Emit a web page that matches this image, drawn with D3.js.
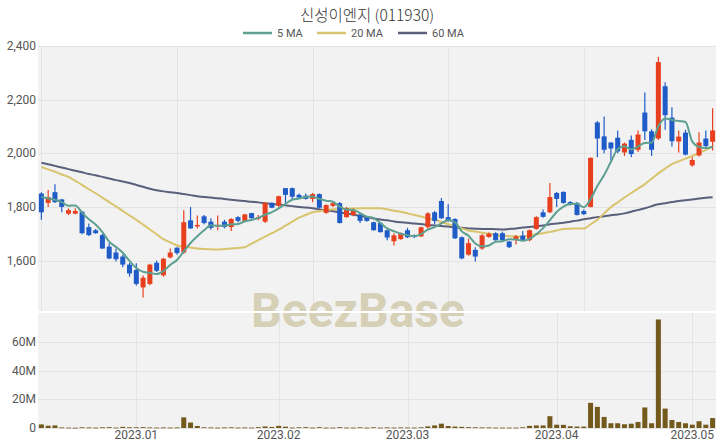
<!DOCTYPE html>
<html><head><meta charset="utf-8">
<script src="https://cdn.jsdelivr.net/npm/d3@7"></script>
<style>html,body{margin:0;padding:0;background:#fff;}svg{display:block;}</style>
</head><body>
<svg id="c" width="720" height="448"></svg>
<script>
// ---- data ----
const title = "신성이엔지 (011930)";
const open  = [1850,1815,1855,1828,1775,1775,1782,1725,1713,1695, 1652,1630,1615,1585,1565,1500,1513,1592,1545,1612,
               1648,1630,1750,1728,1765,1745,1728,1745,1725,1762, 1748,1777,1758,1745,1815,1805,1870,1870,1845,1842,
               1830,1848,1778,1804,1814,1762,1770,1770,1760,1743, 1740,1713,1672,1680,1713,1693,1690,1725,1780,1822,
               1762,1755,1687,1622,1640,1645,1688,1702,1702,1671, 1680,1693,1676,1718,1780,1780,1852,1856,1818,1815,
               1785,1800,2115,2063,2040,2058,2003,2050,2013,2152, 2082,2055,2250,2133,2044,2077,1955,1992,2055,2043];
const high  = [1855,1863,1885,1830,1795,1795,1785,1738,1718,1700, 1665,1645,1622,1592,1590,1544,1588,1600,1610,1645,
               1650,1788,1800,1768,1770,1758,1768,1752,1758,1765, 1775,1778,1770,1818,1817,1842,1870,1872,1850,1850,
               1852,1850,1810,1818,1818,1800,1795,1778,1763,1745, 1742,1716,1702,1705,1722,1697,1726,1780,1785,1833,
               1810,1758,1690,1682,1650,1698,1705,1706,1708,1673, 1695,1710,1716,1765,1790,1889,1856,1858,1822,1818,
               1790,1985,2120,2137,2042,2085,2040,2066,2085,2227, 2090,2360,2265,2172,2085,2088,1985,2078,2085,2168];
const low   = [1752,1800,1815,1780,1770,1773,1698,1692,1700,1643, 1605,1597,1575,1540,1506,1462,1508,1557,1540,1608,
               1622,1625,1718,1720,1735,1715,1713,1720,1710,1743, 1745,1756,1750,1740,1795,1800,1815,1830,1832,1828,
               1818,1795,1775,1800,1738,1760,1765,1740,1745,1712, 1705,1676,1656,1678,1684,1684,1688,1713,1735,1755,
               1745,1680,1605,1618,1597,1640,1685,1674,1672,1647, 1660,1672,1672,1715,1760,1777,1800,1812,1805,1768,
               1770,1798,1985,2000,1972,2000,1990,1985,2005,2050, 1990,2050,2088,2025,2003,1992,1950,1988,2017,2010];
const close = [1780,1837,1818,1800,1788,1785,1702,1695,1702,1645, 1608,1605,1585,1552,1513,1536,1585,1562,1607,1630,
               1628,1743,1720,1733,1740,1722,1733,1725,1755,1748, 1772,1758,1762,1815,1797,1840,1845,1838,1835,1830,
               1848,1797,1807,1814,1740,1795,1788,1748,1748,1713, 1706,1686,1694,1701,1687,1688,1724,1776,1748,1758,
               1748,1683,1608,1665,1615,1694,1700,1676,1676,1650, 1690,1677,1713,1762,1763,1837,1830,1815,1808,1770,
               1773,1983,2055,2013,2018,2007,2036,1997,2070,2082, 2013,2340,2142,2045,2062,1995,1975,2040,2027,2085];
// volume, millions of shares
const volume = [2.5,1.6,1.8,0.4,0.3,0.2,0.5,0.4,0.3,0.5, 0.6,0.3,0.8,0.5,0.5,0.6,0.4,0.3,0.4,0.3,
                0.4,7.4,3.8,1.4,0.5,0.4,0.3,0.4,0.5,0.3, 0.4,0.3,0.6,1.1,0.7,1.5,0.9,0.3,0.5,0.6,
                0.3,0.6,0.3,0.3,0.6,0.3,0.3,0.5,0.3,0.5, 0.3,0.4,0.3,0.4,0.3,0.3,0.5,1.1,1.8,3.0,
                1.4,1.0,0.8,0.6,0.5,0.4,0.4,0.3,0.3,0.3, 0.3,0.5,1.5,1.8,1.8,8.2,2.3,2.2,1.2,1.0,
                1.0,17.5,14.7,7.7,3.3,3.3,2.6,3.0,4.2,14.3, 3.3,75.5,13.5,5.6,4.2,3.3,2.3,4.7,2.3,6.9];
// 5-day average for the first four sessions (earlier closes not shown)
const ma5Head = [1837,1832,1827,1818];
const ma20 = [1949,1940,1931,1921,1912,1897,1882,1866,1851,1835, 1818,1802,1785,1768,1752,1734,1716,1698,1680,1668,
              1656,1652,1649,1645,1643,1642,1641,1643,1645,1647, 1650,1663,1676,1689,1702,1715,1730,1745,1760,1770,
              1780,1784,1788,1791,1792,1793,1794,1795,1795,1795, 1795,1791,1786,1782,1776,1770,1764,1758,1752,1744,
              1736,1728,1720,1712,1708,1704,1700,1696,1692,1691, 1690,1690,1694,1698,1702,1707,1712,1718,1719,1720,
              1720,1735,1752,1776,1799,1817,1835,1852,1868,1885, 1905,1925,1943,1960,1970,1980,1990,2001,2013,2024];
const ma60 = [1965,1959,1953,1947,1941,1935,1929,1923,1918,1912, 1906,1900,1895,1889,1882,1875,1868,1862,1858,1855,
              1852,1848,1844,1840,1837,1835,1832,1830,1827,1824, 1822,1819,1817,1814,1811,1809,1806,1803,1800,1798,
              1795,1791,1787,1784,1780,1776,1771,1767,1762,1757, 1753,1750,1746,1743,1741,1738,1736,1733,1731,1729,
              1727,1724,1722,1720,1719,1718,1718,1717,1716,1718, 1720,1723,1725,1728,1731,1735,1738,1741,1745,1749,
              1754,1758,1762,1765,1769,1772,1776,1782,1789,1795, 1803,1810,1814,1818,1822,1825,1828,1831,1834,1836];
const monthLabels = ["2023.01","2023.02","2023.03","2023.04","2023.05"];
const monthIndex  = [14,35,54,76,96];
const priceTicks = [1600,1800,2000,2200,2400];
const volTicks = [0,20,40,60];
const legendItems = ["5 MA","20 MA","60 MA"];

// ---- derived ----
const n = close.length;
const ma5 = close.map((c,i)=> i<4 ? ma5Head[i] : d3.mean(close.slice(i-4,i+1)));

// ---- layout ----
const svg = d3.select("#c");
const L = 38, R = 716;
const pTop = 46, pBot = 311, vTop = 313, vBot = 428;
const colUp = "#e8401e", colDown = "#1f5cc8";
const colMA = ["#5d9f90","#d8c46c","#5a5f7c"];
const fontF = "Roboto, 'Noto Sans', sans-serif";

const x = d3.scaleBand().domain(d3.range(n)).range([L,R]).paddingInner(0.26).paddingOuter(0.13);
const cx = i => x(i) + x.bandwidth()/2;
const yP = d3.scaleLinear().domain([1412,2400]).range([pBot,pTop]);
const yV = d3.scaleLinear().domain([0,80]).range([vBot,vTop]);

// panels
svg.append("rect").attr("x",L).attr("y",pTop).attr("width",R-L).attr("height",pBot-pTop).attr("fill","#f2f2f2");
svg.append("rect").attr("x",L).attr("y",vTop).attr("width",R-L).attr("height",vBot-vTop).attr("fill","#f2f2f2");

// grids
const grid = svg.append("g").attr("stroke","#e3e3e3").attr("stroke-width",1);
priceTicks.forEach(t=>grid.append("line").attr("x1",L).attr("x2",R).attr("y1",Math.round(yP(t))+0.5).attr("y2",Math.round(yP(t))+0.5));
d3.range(0,n,20).forEach(i=>grid.append("line").attr("x1",Math.round(cx(i))+0.5).attr("x2",Math.round(cx(i))+0.5).attr("y1",pTop).attr("y2",pBot));
volTicks.forEach(t=>grid.append("line").attr("x1",L).attr("x2",R).attr("y1",Math.round(yV(t))+0.5).attr("y2",Math.round(yV(t))+0.5));
monthIndex.forEach(i=>grid.append("line").attr("x1",Math.round(cx(i))+0.5).attr("x2",Math.round(cx(i))+0.5).attr("y1",vTop).attr("y2",vBot));

// watermark
svg.append("text").attr("x",358).attr("y",327).attr("text-anchor","middle")
  .attr("font-family","Roboto, 'Open Sans', sans-serif").attr("font-weight",700).attr("font-size",48)
  .attr("fill","#d3cdb0").attr("opacity",0.9).text("BeezBase");
svg.append("rect").attr("x",L).attr("y",pBot).attr("width",R-L).attr("height",vTop-pBot).attr("fill","#fff");

// moving averages
const lineGen = arr => d3.line().x((d,i)=>cx(i)).y(d=>yP(d)).curve(d3.curveMonotoneX)(arr);
[ma60, ma20].forEach((arr,k)=>{
  svg.append("path").attr("d",lineGen(arr)).attr("fill","none")
    .attr("stroke",k===0?colMA[2]:colMA[1]).attr("stroke-width",2);
});

// candles
const cg = svg.append("g");
d3.range(n).forEach(i=>{
  const up = close[i] >= open[i];
  const col = up ? colUp : colDown;
  cg.append("line").attr("x1",cx(i)).attr("x2",cx(i)).attr("y1",yP(high[i])).attr("y2",yP(low[i]))
    .attr("stroke",col).attr("stroke-width",1.2);
  const top = yP(Math.max(open[i],close[i])), bot = yP(Math.min(open[i],close[i]));
  cg.append("rect").attr("x",x(i)).attr("width",x.bandwidth()).attr("y",top).attr("height",Math.max(1.5,bot-top)).attr("fill",col);
});

// 5 MA on top
svg.append("path").attr("d",lineGen(ma5)).attr("fill","none").attr("stroke",colMA[0]).attr("stroke-width",2);

// volume bars
svg.append("g").selectAll("rect").data(volume).join("rect")
  .attr("x",(d,i)=>x(i)).attr("width",x.bandwidth())
  .attr("y",d=>yV(d)).attr("height",d=>Math.max(0.8,yV(0)-yV(d))).attr("fill","#735a1c");

// axis labels
const axisStyle = s => s.attr("font-family",fontF).attr("font-size",12).attr("fill","#555");
priceTicks.forEach(t=>axisStyle(svg.append("text")).attr("x",36).attr("y",yP(t)+4).attr("text-anchor","end").text(d3.format(",")(t)));
volTicks.forEach(t=>axisStyle(svg.append("text")).attr("x",36).attr("y",yV(t)+4).attr("text-anchor","end").text(t===0?"0":t+"M"));
monthIndex.forEach((i,k)=>axisStyle(svg.append("text")).attr("x",cx(i)).attr("y",439).attr("text-anchor","middle").text(monthLabels[k]));

// title
svg.append("text").attr("x",367).attr("y",21).attr("text-anchor","middle")
  .attr("font-family","'Noto Sans CJK KR', 'Noto Sans', sans-serif").attr("font-weight",300).attr("font-size",15.5)
  .attr("fill","#333").text(title);

// legend
const lg = svg.append("g");
const lx = [243,317,398];
legendItems.forEach((t,k)=>{
  lg.append("line").attr("x1",lx[k]).attr("x2",lx[k]+29).attr("y1",33).attr("y2",33).attr("stroke",colMA[k]).attr("stroke-width",2.5);
  lg.append("text").attr("x",lx[k]+34).attr("y",37).attr("font-family",fontF).attr("font-size",11).attr("fill","#555").text(t);
});
</script>
</body></html>
